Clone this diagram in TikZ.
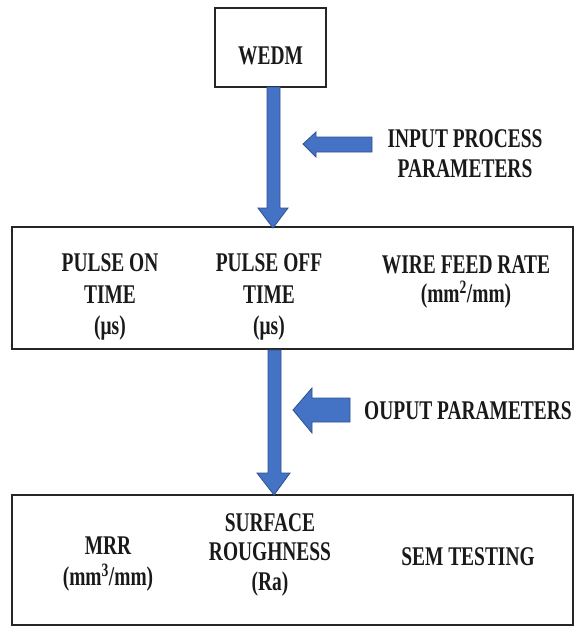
\documentclass[tikz,border=0pt]{standalone}
\usepackage{fontspec}
\setmainfont[FakeStretch=0.72]{Liberation Serif}
\definecolor{arrowfill}{RGB}{68,114,196}
\definecolor{arrowline}{RGB}{47,82,143}
\begin{document}
\begin{tikzpicture}[x=1pt,y=-1pt,
  boxline/.style={draw=black!85,line width=1.4pt},
  lbl/.style={font=\fontsize{27}{31}\selectfont\bfseries,align=center,inner sep=0pt,text=black!90,anchor=north},
  blockarrow/.style={fill=arrowfill,draw=arrowline,line width=0.8pt,line join=miter}]
\useasboundingbox (0,0) rectangle (574,627);
% boxes
\draw[boxline] (215,8) rectangle (326,87);
\draw[boxline] (12,227) rectangle (573,349);
\draw[boxline] (12,495) rectangle (573,625);
% texts (north = first baseline - cap height 17.7)
\node[lbl] (wedm) at (270.5,46.3) {WEDM};
\node[lbl] (inp) at (465,129.3) {INPUT PROCESS\\[-1pt]PARAMETERS};
\node[lbl] (pon) at (110,253.3) {PULSE ON\\[1pt]TIME\\(μs)};
\node[lbl] (poff) at (269,253.3) {PULSE OFF\\[1pt]TIME\\(μs)};
\node[lbl] (wfr) at (466,255.3) {WIRE FEED RATE\\[-2pt](mm\textsuperscript{2}/mm)};
\node[lbl] (out) at (468,401.3) {OUPUT PARAMETERS};
\node[lbl] (mrr) at (108,536.3) {MRR\\[0pt](mm\textsuperscript{3}/mm)};
\node[lbl] (sr) at (270,513.3) {SURFACE\\[-2pt]ROUGHNESS\\[-1pt](Ra)};
\node[lbl] (sem) at (468,547.3) {SEM TESTING};
% main down arrows
\draw[blockarrow] (267,87) -- (267,208) -- (258,208) -- (273,228) -- (288,208) -- (280,208) -- (280,87) -- cycle;
\draw[blockarrow] (268,350) -- (268,473) -- (257,473) -- (274,495) -- (290,473) -- (281,473) -- (281,350) -- cycle;
% side arrows
\draw[blockarrow] (372,137) -- (316,137) -- (316,132) -- (303,144) -- (316,157) -- (316,152) -- (372,152) -- cycle;
\draw[blockarrow] (350,398) -- (312,398) -- (312,388) -- (293,410) -- (312,433) -- (312,422) -- (350,422) -- cycle;
\end{tikzpicture}
\end{document}
